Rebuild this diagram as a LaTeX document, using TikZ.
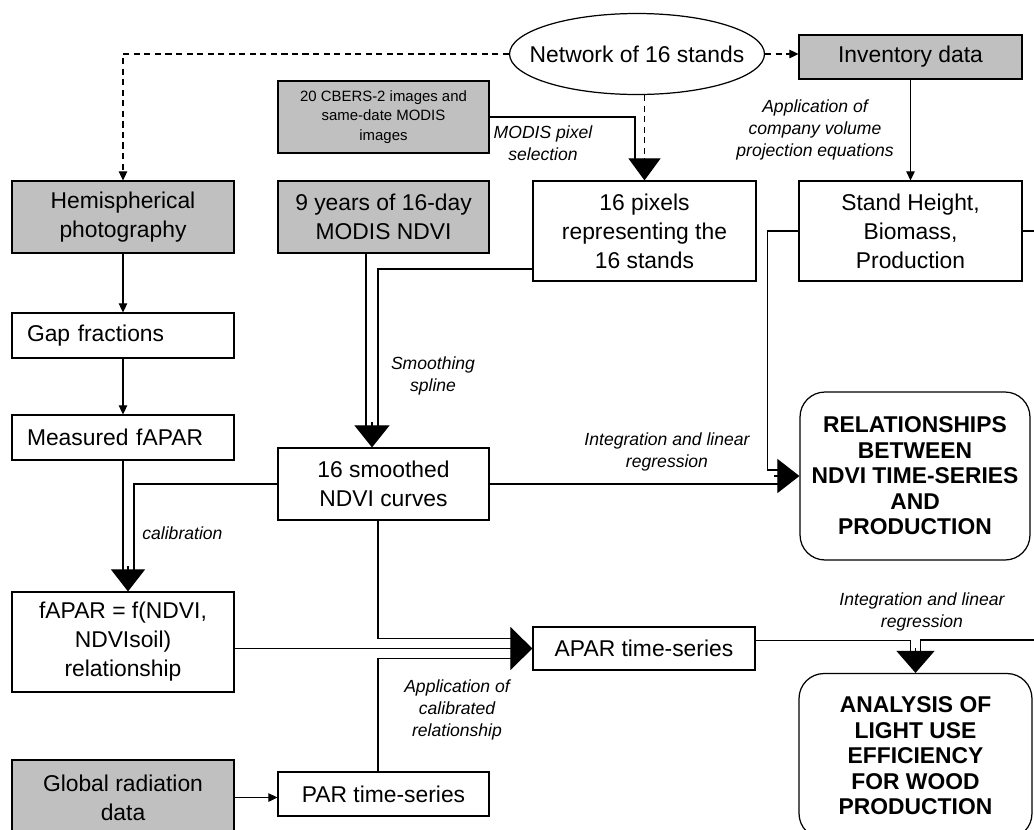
\documentclass[tikz,border=0pt]{standalone}
\usepackage{fontspec}
\setmainfont{Liberation Sans}
\usetikzlibrary{arrows.meta,shapes.geometric}

\definecolor{boxgray}{RGB}{192,192,192}

\tikzset{
  box/.style={draw, line width=0.7pt, align=center, inner sep=2pt,
    font=\fontsize{13}{16.5}\selectfont},
  databox/.style={box, fill=boxgray},
  leftbox/.style={box, align=left, text width=3.84cm, inner xsep=0.3cm, minimum height=0.9cm},
  resultbox/.style={box, rounded corners=0.5cm, font=\fontsize{13}{14.5}\selectfont\bfseries},
  note/.style={align=center, font=\fontsize{10}{12.5}\selectfont\itshape},
  link/.style={dash pattern=on 3.5pt off 2.5pt},
  arr/.style={-{Triangle[length=0.18cm,width=0.17cm]}},
  bighead/.style={-{Triangle[length=0.44cm,width=#1]}},
  bighead/.default=0.68cm,
}

\begin{document}
\begin{tikzpicture}[x=0.02cm, y=-0.02cm, line width=0.6pt]

    % 範囲
    \useasboundingbox (0,0) rectangle (1034,829);

    % ノードの定義
    \node[ellipse, draw, line width=0.7pt, inner xsep=-0.6cm, minimum width=5.1cm, minimum height=1.62cm,
      font=\fontsize{13}{16.5}\selectfont] (net) at (637,54) {Network of 16 stands};
    \node[databox, minimum width=4.46cm, minimum height=0.88cm] (inv) at (910.5,57) {Inventory data};
    \node[databox, minimum width=4.22cm, minimum height=1.44cm, font=\fontsize{8.5}{11}\selectfont]
      (cbers) at (383.5,117) {20 CBERS-2 images and\\same-date MODIS\\images};
    \node[databox, minimum width=4.44cm, minimum height=1.44cm] (hemi) at (123,217) {Hemispherical\\photography};
    \node[databox, minimum width=4.22cm, minimum height=1.44cm] (years) at (383.5,217) {9 years of 16-day\\MODIS NDVI};
    \node[box, minimum width=4.46cm, minimum height=2cm] (pix) at (644.5,231) {16 pixels\\representing the\\16 stands};
    \node[box, minimum width=4.46cm, minimum height=2cm] (stand) at (910.5,231) {Stand Height,\\Biomass,\\Production};
    \node[leftbox] (gap) at (123,335.5) {Gap fractions};
    \node[leftbox] (meas) at (123,437.5) {Measured fAPAR};
    \node[box, minimum width=4.22cm, minimum height=1.44cm] (smooth) at (383.5,484) {16 smoothed\\NDVI curves};
    \node[resultbox, minimum width=4.6cm, minimum height=3.36cm] (rel) at (915,476)
      {RELATIONSHIPS\\BETWEEN\\NDVI TIME-SERIES\\AND\\PRODUCTION};
    \node[box, minimum width=4.44cm, minimum height=2cm] (fapar) at (123,642) {fAPAR = f(NDVI,\\NDVIsoil)\\relationship};
    \node[box, minimum width=4.44cm, minimum height=0.86cm] (apar) at (644,648.5) {APAR time-series};
    \node[resultbox, minimum width=4.66cm, minimum height=3.3cm] (ana) at (915.5,756)
      {ANALYSIS OF\\LIGHT USE\\EFFICIENCY\\FOR WOOD\\PRODUCTION};
    \node[databox, minimum width=4.44cm, minimum height=1.5cm] (glob) at (123,797.5) {Global radiation\\data};
    \node[box, minimum width=4.22cm, minimum height=0.88cm] (par) at (383.5,794) {PAR time-series};

    % ラベル
    \node[note] (lsel) at (543,143) {MODIS pixel\\selection};
    \node[note] (lvol) at (815,130) {Application of\\company volume\\projection equations};
    \node[note] (lspl) at (433,376) {Smoothing\\spline};
    \node[note] (lreg) at (667,452) {Integration and linear\\regression};
    \node[note, anchor=west] (lcal) at (136,533) {calibration};
    \node[note] (lapp) at (457,710) {Application of\\calibrated\\relationship};
    \node[note] (lreg2) at (922,612) {Integration and linear\\regression};

    % 破線の矢印
    \draw[link, arr] (net.west) -| (hemi.north);
    \draw[link, arr] (net.east) -- (net.east -| inv.west);
    \draw[link, bighead=0.64cm] (net.south -| pix.north) -- (pix.north);
    \draw (cbers.east) -| ([xshift=-0.19cm,yshift=0.4cm]pix.north);

    % 細い矢印
    \draw[arr] (inv.south) -- (stand.north);
    \draw[arr] (hemi.south) -- (gap.north);
    \draw[arr] (gap.south) -- (meas.north);
    \draw[arr] (glob.east) -- (glob.east -| par.west);

    % 16 smoothed へ
    \draw ([xshift=-0.35cm]years.south) -- ([xshift=-0.35cm,yshift=0.4cm]smooth.north);
    \draw ([yshift=-0.76cm]pix.west) -| ([xshift=-0.11cm,yshift=0.4cm]smooth.north);
    \draw[bighead=0.7cm] ([xshift=-0.23cm,yshift=0.5cm]smooth.north) -- ([xshift=-0.23cm]smooth.north);

    % RELATIONSHIPS へ
    \coordinate (relin) at ([xshift=-0.4cm]rel.west);
    \draw (stand.west) -| ([xshift=-0.64cm,yshift=0.12cm]rel.west) -- ([yshift=0.12cm]relin);
    \draw (smooth.east) -- (smooth.east -| relin);
    \draw[bighead] ([xshift=-0.5cm]rel.west) -- (rel.west);

    % fAPAR へ
    \draw (meas.south) -- ([yshift=0.4cm]fapar.north);
    \draw (smooth.west) -| ([xshift=0.22cm,yshift=0.4cm]fapar.north);
    \draw[bighead] ([xshift=0.1cm,yshift=0.5cm]fapar.north) -- ([xshift=0.1cm]fapar.north);

    % APAR へ
    \coordinate (aparin) at ([xshift=-0.4cm]apar.west);
    \draw (fapar.east |- apar.west) -- (aparin);
    \draw ([xshift=-0.11cm]smooth.south) |- ([yshift=0.2cm]aparin);
    \draw ([xshift=-0.11cm]par.north) |- ([yshift=-0.2cm]aparin);
    \draw[bighead=0.86cm] ([xshift=-0.5cm]apar.west) -- (apar.west);

    % ANALYSIS へ
    \coordinate (anain) at ([yshift=0.4cm]ana.north);
    \draw ([yshift=0.16cm]apar.east) -| ([xshift=-0.1cm]anain);
    \draw (stand.east) -| (1050,640) -| ([xshift=0.1cm]anain);
    \draw[bighead=0.76cm] ([yshift=0.5cm]ana.north) -- (ana.north);

\end{tikzpicture}
\end{document}
